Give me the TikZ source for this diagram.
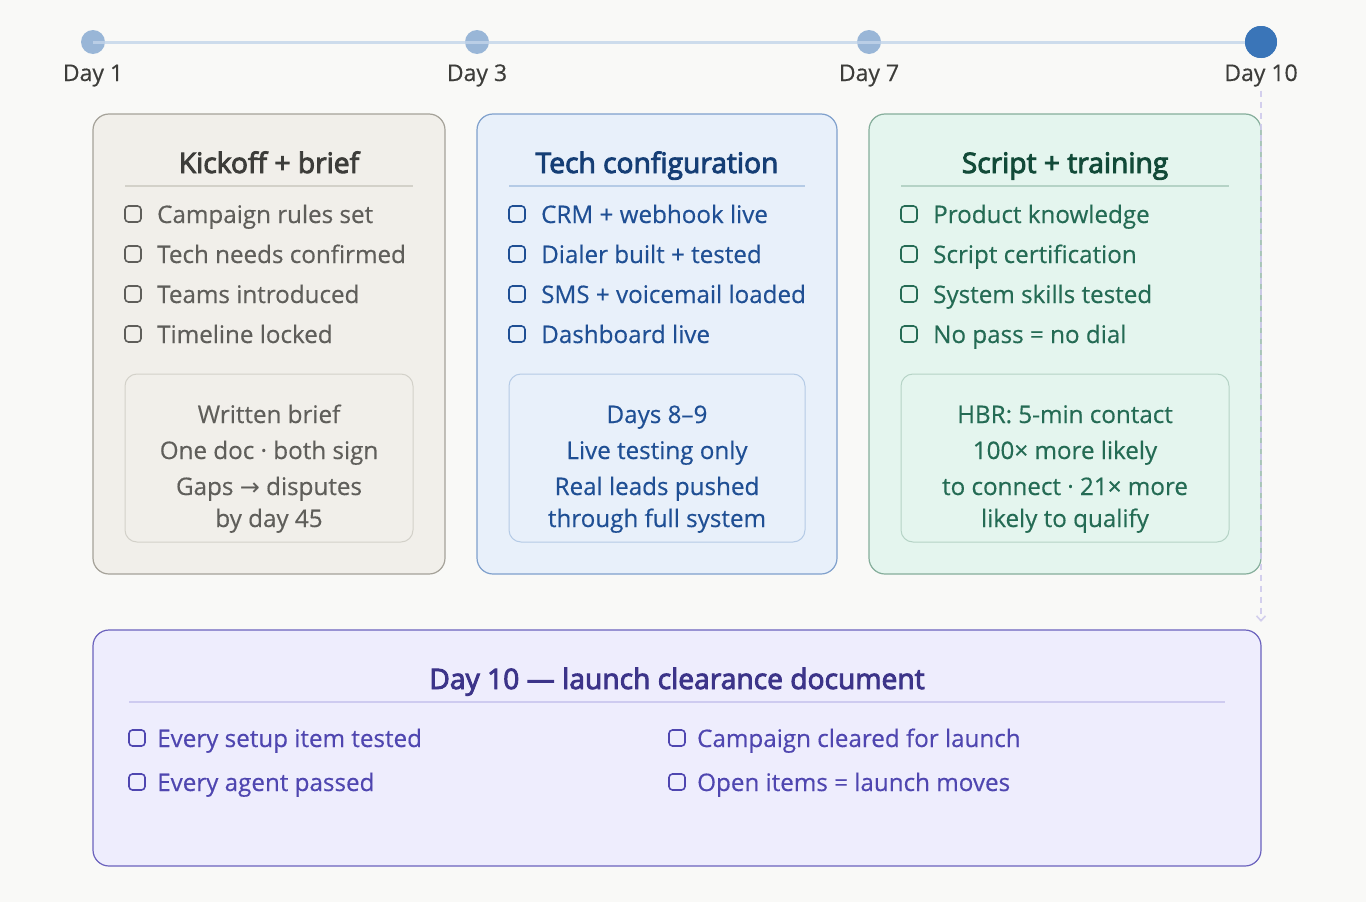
\documentclass[tikz,border=0pt]{standalone}
\usepackage{fontspec}
\usetikzlibrary{arrows.meta}
\setmainfont{Open Sans}[FakeBold=0.4]
\newfontfamily\arrowfont{DejaVu Sans}
\newfontfamily\titlefont{Open Sans}[FakeBold=3.2]
\definecolor{pagebg}{HTML}{F9F9F7}
\definecolor{lineblue}{HTML}{C3D5EA}
\definecolor{dotblue}{HTML}{3A75B8}
\definecolor{daytext}{HTML}{3D3D3A}
\definecolor{dashpurple}{HTML}{CFCBEC}
\definecolor{grayfill}{HTML}{F1EFEA}
\definecolor{graydraw}{HTML}{A5A299}
\definecolor{graytitle}{HTML}{3D3D3A}
\definecolor{graytext}{HTML}{5F5E5A}
\definecolor{grayrule}{HTML}{D3D1C9}
\definecolor{bluefill}{HTML}{E8F0FA}
\definecolor{bluedraw}{HTML}{7FA0CC}
\definecolor{bluetitle}{HTML}{153E75}
\definecolor{bluetext}{HTML}{1F4F94}
\definecolor{bluerule}{HTML}{B5CBE6}
\definecolor{greenfill}{HTML}{E4F5EE}
\definecolor{greendraw}{HTML}{85AE9B}
\definecolor{greentitle}{HTML}{124A38}
\definecolor{greentext}{HTML}{246B54}
\definecolor{greenrule}{HTML}{B5D3C6}
\definecolor{violetfill}{HTML}{EEEDFD}
\definecolor{violetdraw}{HTML}{6B62BD}
\definecolor{violettitle}{HTML}{3C3489}
\definecolor{violettext}{HTML}{4F46B0}
\definecolor{violetrule}{HTML}{CECBF0}
\begin{document}
\begin{tikzpicture}
  [x=1pt,y=-1pt,
    smalldot/.style={circle,fill=dotblue,fill opacity=.5,inner sep=0pt,minimum size=24pt},
    bigdot/.style={circle,fill=dotblue,inner sep=0pt,minimum size=32pt},
    daylabel/.style={anchor=base,text=daytext,font=\fontsize{23}{23}\selectfont,inner sep=0pt},
    card/.style={rectangle,rounded corners=16pt,line width=1.2pt,inner sep=0pt,outer sep=0pt,anchor=north west},
    notebox/.style={rectangle,rounded corners=12pt,line width=1pt,inner sep=0pt,outer sep=0pt,anchor=north west},
    cardtitle/.style={anchor=base,inner sep=0pt,font=\titlefont\fontsize{28.2}{28.2}\selectfont},
    itemtext/.style={anchor=base west,inner sep=0pt,font=\fontsize{24.2}{24.2}\selectfont},
    notetext/.style={anchor=base,inner sep=0pt,font=\fontsize{24.2}{24.2}\selectfont},
    tickbox/.style={rectangle,rounded corners=3.5pt,line width=1.6pt,minimum size=16pt,inner sep=0pt,outer sep=0pt}]
  \useasboundingbox (0,0) rectangle (1366,902);
  \fill[pagebg] (0,0) rectangle (1366,902);

  % cards
  \node[card,draw=graydraw,fill=grayfill,minimum width=352pt,minimum height=460pt] (kickoff) at (93,114) {};
  \node[card,draw=bluedraw,fill=bluefill,minimum width=360pt,minimum height=460pt] (tech) at (477,114) {};
  \node[card,draw=greendraw,fill=greenfill,minimum width=392pt,minimum height=460pt] (script) at (869,114) {};
  \node[card,draw=violetdraw,fill=violetfill,minimum width=1168pt,minimum height=236pt] (clearance) at (93,630) {};

  % timeline
  \node[smalldot] (day1) at (93,42) {};
  \node[smalldot] (day3) at (477,42) {};
  \node[smalldot] (day7) at (869,42) {};
  \node[bigdot] (day10) at (1261,42) {};
  \draw[lineblue,line width=3pt,opacity=.8] (day1.center) -- (day3.center) -- (day7.center) -- (day10.center);
  \node[bigdot] at (day10) {};
  \node[daylabel] (lab1) at (93,81) {Day 1};
  \node[daylabel] (lab3) at (477,81) {Day 3};
  \node[daylabel] (lab7) at (869,81) {Day 7};
  \node[daylabel] (lab10) at (1261,81) {Day 10};
  \coordinate (dashend) at (1261,622);
  \draw[dashpurple,line width=1.6pt,dash pattern=on 6pt off 5pt,-{Straight Barb[length=5pt,width=9pt]},opacity=.9]
    (lab10.south) ++(0,4) -- (dashend);

  % kickoff card
  \node[cardtitle,text=graytitle] (kickofftitle) at (269,173) {Kickoff + brief};
  \draw[grayrule,line width=1.5pt] (125,186) -- (413,186);
  \foreach \y/\t in {223/Campaign rules set,263/Tech needs confirmed,303/Teams introduced,343/Timeline locked} {
    \node[tickbox,draw=graytext] (tick\y) at (133,\y-9) {};
    \node[itemtext,text=graytext] (item\y) at (157,\y) {\t};
  }
  \node[notebox,draw=grayrule,minimum width=288pt,minimum height=168pt] (kickoffnote) at (125,374) {};
  \foreach \y/\t in {423/Written brief,459/One doc · both sign,495/Gaps {\arrowfont\fontsize{24}{24}\selectfont →} disputes,527/by day 45}
    \node[notetext,text=graytext] (note\y) at (269,\y) {\t};

  % tech card
  \node[cardtitle,text=bluetitle] (techtitle) at (657,173) {Tech configuration};
  \draw[bluerule,line width=1.5pt] (509,186) -- (805,186);
  \foreach \y/\t in {223/CRM + webhook live,263/Dialer built + tested,303/SMS + voicemail loaded,343/Dashboard live} {
    \node[tickbox,draw=bluetext] (techtick\y) at (517,\y-9) {};
    \node[itemtext,text=bluetext] (techitem\y) at (541,\y) {\t};
  }
  \node[notebox,draw=bluerule,minimum width=296pt,minimum height=168pt] (technote) at (509,374) {};
  \foreach \y/\t in {423/Days 8–9,459/Live testing only,495/Real leads pushed,527/through full system}
    \node[notetext,text=bluetext] (technote\y) at (657,\y) {\t};

  % script card
  \node[cardtitle,text=greentitle] (scripttitle) at (1065,173) {Script + training};
  \draw[greenrule,line width=1.5pt] (901,186) -- (1229,186);
  \foreach \y/\t in {223/Product knowledge,263/Script certification,303/System skills tested,343/No pass = no dial} {
    \node[tickbox,draw=greentext] (scripttick\y) at (909,\y-9) {};
    \node[itemtext,text=greentext] (scriptitem\y) at (933,\y) {\t};
  }
  \node[notebox,draw=greenrule,minimum width=328pt,minimum height=168pt] (scriptnote) at (901,374) {};
  \foreach \y/\t in {423/HBR: 5-min contact,459/100× more likely,495/to connect · 21× more,527/likely to qualify}
    \node[notetext,text=greentext] (scriptnote\y) at (1065,\y) {\t};

  % clearance card
  \node[cardtitle,text=violettitle] (clearancetitle) at (677,689) {Day 10 — launch clearance document};
  \draw[violetrule,line width=1.5pt] (129,702) -- (1225,702);
  \foreach \x/\y/\t in {137/747/Every setup item tested,137/791/Every agent passed,677/747/Campaign cleared for launch,677/791/Open items = launch moves} {
    \node[tickbox,draw=violettext] (cleartick\x\y) at (\x,\y-9) {};
    \node[itemtext,text=violettext] (clearitem\x\y) at (\x+20,\y) {\t};
  }
\end{tikzpicture}
\end{document}
